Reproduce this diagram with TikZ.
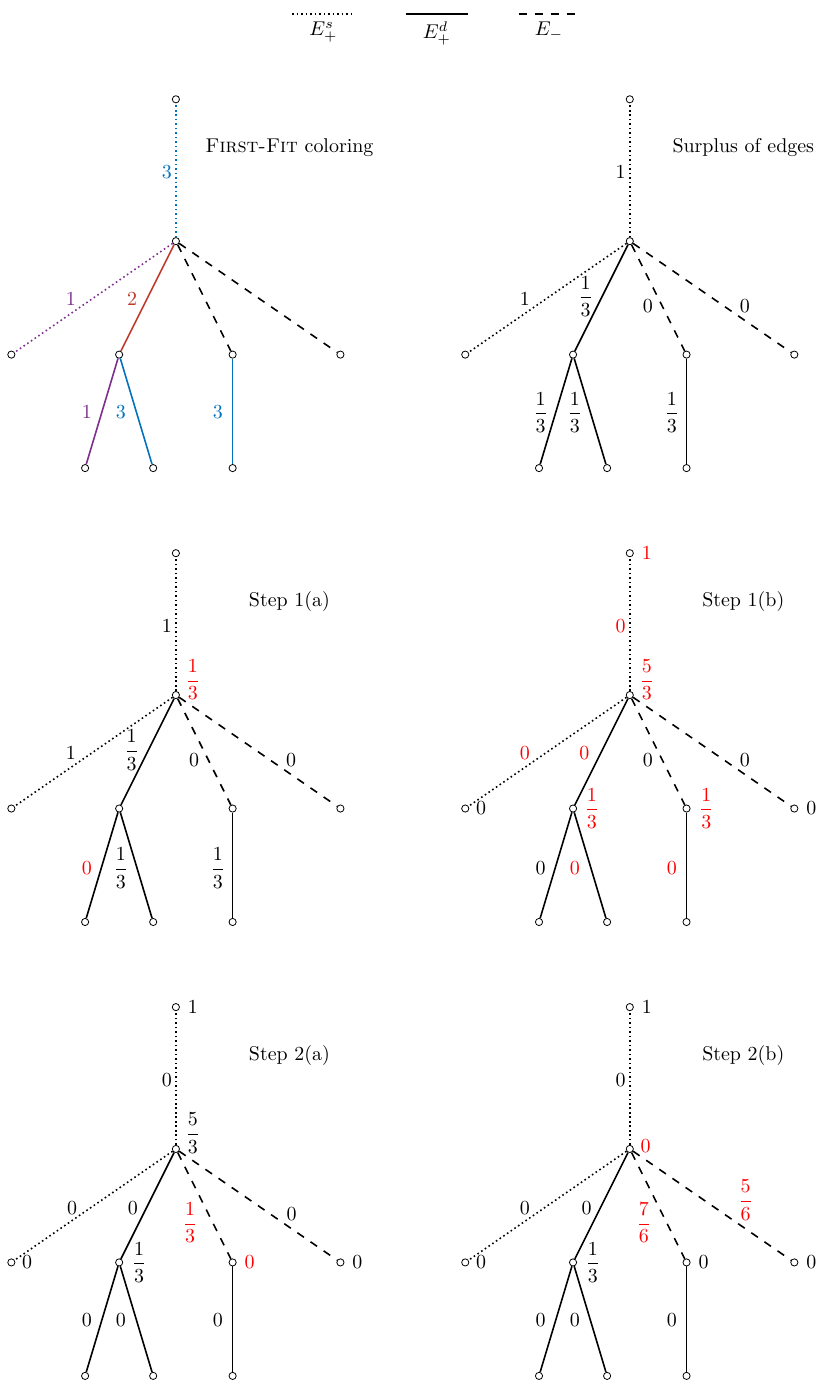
\documentclass[tikz,border=0pt]{standalone}
\usepackage{amsmath}
\usepackage{amssymb}
\usetikzlibrary{calc, positioning}

\definecolor{ffblue}{RGB}{0,114,189}
\definecolor{ffred}{RGB}{192,57,43}
\definecolor{ffpurple}{RGB}{126,47,142}

\begin{document}
\begin{tikzpicture}[
  vert/.style={circle, draw, fill=white, inner sep=0pt, minimum size=3.6pt, line width=0.4pt},
  sedge/.style={line width=0.8pt, dash pattern=on 0.8pt off 1.45pt},
  dedge/.style={line width=0.8pt},
  medge/.style={line width=0.8pt, dash pattern=on 4pt off 4pt},
  lbl/.style={inner sep=0pt}
]
\useasboundingbox (-3.10,-20.09) rectangle (11.38,4.25);
\def\topy{2.5}
\def\lev{2}
\def\gap{8}
% legend
\coordinate (ls1) at (2.05,4);
\coordinate (ls2) at (3.15,4);
\coordinate (ld1) at (4.05,4);
\coordinate (ld2) at (5.15,4);
\coordinate (lm1) at (6.05,4);
\coordinate (lm2) at (7.10,4);
\draw[sedge] (ls1) -- (ls2) node[midway, below] {$E^s_+$};
\draw[dedge] (ld1) -- (ld2) node[midway, below] {$E^d_+$};
\draw[medge] (lm1) -- (lm2) node[midway, below] {$E_-$};
% trees
\foreach \p/\px/\py in {a/0/0, b/\gap/0, c/0/-\gap, d/\gap/-\gap, e/0/-2*\gap, f/\gap/-2*\gap} {
  \node[vert] (\p-r) at (\px,\py) {};
  \node[vert] (\p-t) at ($(\p-r)+(0,\topy)$) {};
  \node[vert] (\p-1) at ($(\p-r)+(-2.9,-\lev)$) {};
  \node[vert] (\p-2) at ($(\p-r)+(-1,-\lev)$) {};
  \node[vert] (\p-3) at ($(\p-r)+(1,-\lev)$) {};
  \node[vert] (\p-4) at ($(\p-r)+(2.9,-\lev)$) {};
  \node[vert] (\p-21) at ($(\p-r)+(-1.6,-2*\lev)$) {};
  \node[vert] (\p-22) at ($(\p-r)+(-0.4,-2*\lev)$) {};
  \node[vert] (\p-31) at ($(\p-r)+(1,-2*\lev)$) {};
}
\foreach \p in {b,c,d,e,f} {
  \draw[sedge] (\p-r) -- (\p-t);
  \draw[sedge] (\p-r) -- (\p-1);
  \draw[dedge] (\p-r) -- (\p-2);
  \draw[medge] (\p-r) -- (\p-3);
  \draw[medge] (\p-r) -- (\p-4);
  \draw[dedge] (\p-2) -- (\p-21);
  \draw[dedge] (\p-2) -- (\p-22);
  \draw[dedge] (\p-3) -- (\p-31);
}
\draw[sedge, ffblue] (a-r) -- (a-t);
\draw[sedge, ffpurple] (a-r) -- (a-1);
\draw[dedge, ffred] (a-r) -- (a-2);
\draw[medge] (a-r) -- (a-3);
\draw[medge] (a-r) -- (a-4);
\draw[dedge, ffpurple] (a-2) -- (a-21);
\draw[dedge, ffblue] (a-2) -- (a-22);
\draw[dedge, ffblue] (a-3) -- (a-31);
% titles
\node at ($(a-r)+(2,1.65)$) {\textsc{First-Fit} coloring};
\node at ($(b-r)+(2,1.65)$) {Surplus of edges};
\node at ($(c-r)+(2,1.65)$) {Step 1(a)};
\node at ($(d-r)+(2,1.65)$) {Step 1(b)};
\node at ($(e-r)+(2,1.65)$) {Step 2(a)};
\node at ($(f-r)+(2,1.65)$) {Step 2(b)};
% First-Fit
\node[lbl, ffblue] at ($(a-r)+(-0.16,1.22)$) {$3$};
\node[lbl, ffpurple] at ($(a-r)+(-1.85,-1.02)$) {$1$};
\node[lbl, ffred] at ($(a-r)+(-0.77,-1.02)$) {$2$};
\node[lbl, ffpurple] at ($(a-r)+(-1.57,-3.02)$) {$1$};
\node[lbl, ffblue] at ($(a-r)+(-0.97,-3.02)$) {$3$};
\node[lbl, ffblue] at ($(a-r)+(0.74,-3.02)$) {$3$};
% surplus
\node[lbl] at ($(b-r)+(-0.16,1.22)$) {$1$};
\node[lbl] at ($(b-r)+(-1.85,-1.02)$) {$1$};
\node[lbl] at ($(b-r)+(-0.78,-0.97)$) {$\dfrac{1}{3}$};
\node[lbl] at ($(b-r)+(0.32,-1.15)$) {$0$};
\node[lbl] at ($(b-r)+(2.03,-1.15)$) {$0$};
\node[lbl] at ($(b-r)+(-1.57,-3.02)$) {$\dfrac{1}{3}$};
\node[lbl] at ($(b-r)+(-0.97,-3.02)$) {$\dfrac{1}{3}$};
\node[lbl] at ($(b-r)+(0.74,-3.02)$) {$\dfrac{1}{3}$};
% step 1(a)
\node[lbl] at ($(c-r)+(-0.16,1.22)$) {$1$};
\node[lbl, red] at ($(c-r)+(0.3,0.27)$) {$\dfrac{1}{3}$};
\node[lbl] at ($(c-r)+(-1.85,-1.02)$) {$1$};
\node[lbl] at ($(c-r)+(-0.78,-0.97)$) {$\dfrac{1}{3}$};
\node[lbl] at ($(c-r)+(0.32,-1.15)$) {$0$};
\node[lbl] at ($(c-r)+(2.03,-1.15)$) {$0$};
\node[lbl, red] at ($(c-r)+(-1.57,-3.05)$) {$0$};
\node[lbl] at ($(c-r)+(-0.97,-3.05)$) {$\dfrac{1}{3}$};
\node[lbl] at ($(c-r)+(0.74,-3.05)$) {$\dfrac{1}{3}$};
% step 1(b)
\node[lbl, red] at ($(d-t)+(0.3,0)$) {$1$};
\node[lbl, red] at ($(d-r)+(-0.16,1.22)$) {$0$};
\node[lbl, red] at ($(d-r)+(0.3,0.27)$) {$\dfrac{5}{3}$};
\node[lbl, red] at ($(d-r)+(-1.85,-1.02)$) {$0$};
\node[lbl, red] at ($(d-r)+(-0.8,-1.02)$) {$0$};
\node[lbl] at ($(d-r)+(0.32,-1.15)$) {$0$};
\node[lbl] at ($(d-r)+(2.03,-1.15)$) {$0$};
\node[lbl] at ($(d-1)+(0.28,0)$) {$0$};
\node[lbl, red] at ($(d-2)+(0.33,0)$) {$\dfrac{1}{3}$};
\node[lbl, red] at ($(d-3)+(0.35,0)$) {$\dfrac{1}{3}$};
\node[lbl] at ($(d-4)+(0.3,0)$) {$0$};
\node[lbl] at ($(d-r)+(-1.57,-3.05)$) {$0$};
\node[lbl, red] at ($(d-r)+(-0.97,-3.05)$) {$0$};
\node[lbl, red] at ($(d-r)+(0.74,-3.05)$) {$0$};
% step 2(a)
\node[lbl] at ($(e-t)+(0.3,0)$) {$1$};
\node[lbl] at ($(e-r)+(-0.16,1.22)$) {$0$};
\node[lbl] at ($(e-r)+(0.3,0.28)$) {$\dfrac{5}{3}$};
\node[lbl] at ($(e-r)+(-1.83,-1.04)$) {$0$};
\node[lbl] at ($(e-r)+(-0.76,-1.04)$) {$0$};
\node[lbl, red] at ($(e-r)+(0.25,-1.3)$) {$\dfrac{1}{3}$};
\node[lbl] at ($(e-r)+(2.04,-1.15)$) {$0$};
\node[lbl] at ($(e-1)+(0.28,0)$) {$0$};
\node[lbl] at ($(e-2)+(0.35,0)$) {$\dfrac{1}{3}$};
\node[lbl, red] at ($(e-3)+(0.3,0)$) {$0$};
\node[lbl] at ($(e-4)+(0.3,0)$) {$0$};
\node[lbl] at ($(e-r)+(-1.57,-3.02)$) {$0$};
\node[lbl] at ($(e-r)+(-0.97,-3.02)$) {$0$};
\node[lbl] at ($(e-r)+(0.74,-3.02)$) {$0$};
% step 2(b)
\node[lbl] at ($(f-t)+(0.3,0)$) {$1$};
\node[lbl] at ($(f-r)+(-0.16,1.22)$) {$0$};
\node[lbl, red] at ($(f-r)+(0.28,0.05)$) {$0$};
\node[lbl] at ($(f-r)+(-1.85,-1.04)$) {$0$};
\node[lbl] at ($(f-r)+(-0.76,-1.04)$) {$0$};
\node[lbl, red] at ($(f-r)+(0.25,-1.3)$) {$\dfrac{7}{6}$};
\node[lbl, red] at ($(f-r)+(2.04,-0.9)$) {$\dfrac{5}{6}$};
\node[lbl] at ($(f-1)+(0.28,0)$) {$0$};
\node[lbl] at ($(f-2)+(0.35,0)$) {$\dfrac{1}{3}$};
\node[lbl] at ($(f-3)+(0.3,0)$) {$0$};
\node[lbl] at ($(f-4)+(0.3,0)$) {$0$};
\node[lbl] at ($(f-r)+(-1.57,-3.02)$) {$0$};
\node[lbl] at ($(f-r)+(-0.97,-3.02)$) {$0$};
\node[lbl] at ($(f-r)+(0.74,-3.02)$) {$0$};
\end{tikzpicture}
\end{document}
